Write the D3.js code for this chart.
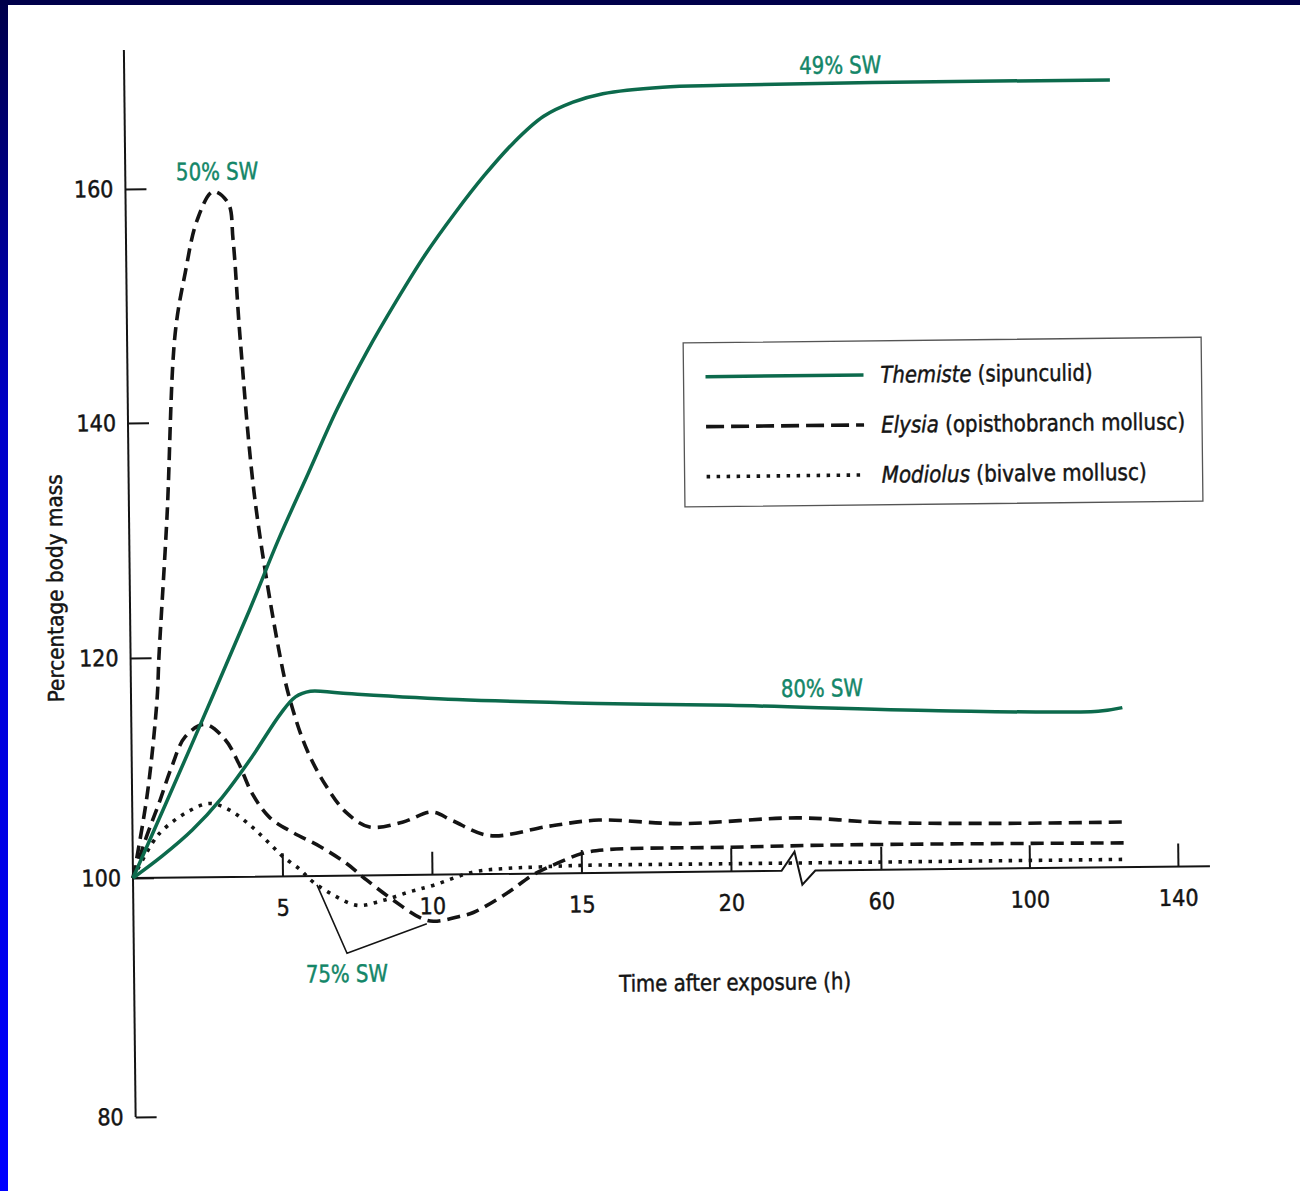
<!DOCTYPE html>
<html>
<head>
<meta charset="utf-8">
<script src="https://cdn.jsdelivr.net/npm/d3@7"></script>
<style>
  body { margin: 0; background: #fff; }
  svg { display: block; }
  text { font-family: "Liberation Sans Narrow", "Arial Narrow", "DejaVu Sans Condensed", sans-serif; }
</style>
</head>
<body>
<svg width="1300" height="1191"></svg>
<script>
'use strict'

// tick values
const X_TICKS = [5, 10, 15, 20, 60, 100, 140];
const Y_TICKS = [80, 100, 120, 140, 160];

// [hours, % body mass]
const themiste49 = [[0, 100], [2, 112], [4, 124], [5, 130], [6, 135.5], [7, 141], [8, 145.8],
  [9, 150.1], [10, 154.1], [11, 157.6], [12, 160.8], [13, 163.6], [14, 165.8], [15, 167.0],
  [16, 167.7], [18, 168.2], [20, 168.3], [60, 168.4], [124, 168.4]];
const themiste80 = [[0, 100], [1, 102.0], [2, 104.3], [3, 107.2], [4, 110.8], [5, 114.8],
  [5.5, 116.3], [6, 116.8], [7, 116.6], [10.9, 115.9], [15.6, 115.4], [20, 115.1], [76, 114.4],
  [119, 114.2], [125.5, 114.5]];
const elysia50 = [[0, 100], [0.14, 101.9], [0.53, 108.0], [0.87, 116.2], [0.95, 120.1], [1.27, 132],
  [1.61, 147.6], [1.97, 152.8], [2.39, 157.3], [2.93, 159.7], [3.43, 158.7], [3.58, 155.6],
  [3.78, 147.2], [4.22, 133.3], [5.0, 120.0], [5.32, 116.0], [5.86, 111.5], [6.51, 108.1],
  [7.17, 105.7], [7.93, 104.4], [9.03, 104.8], [10.03, 105.7], [10.7, 104.9], [11.94, 103.5],
  [13.95, 104.3], [15.6, 104.8], [18.3, 104.4], [38, 104.8], [60, 104.3], [92, 104.1], [125.7, 104.1]];
const elysia75 = [[0, 100], [0.46, 103.7], [0.9, 106.8], [1.34, 110.1], [1.8, 112.8], [2.46, 113.9],
  [3.13, 112.5], [3.58, 110.3], [4.01, 107.6], [4.58, 105.4], [5.35, 104.0], [6.25, 102.7],
  [7.15, 101.1], [7.82, 99.6], [8.7, 97.9], [9.6, 96.4], [10.03, 96.1], [10.94, 96.5],
  [11.37, 96.8], [12.51, 98.4], [13.38, 99.9], [14.18, 100.9], [15.05, 101.8], [15.85, 102.1],
  [20, 102.2], [49, 102.3], [126.3, 102.2]];
const modiolus = [[0, 100], [0.67, 103.2], [1.0, 104.3], [1.81, 105.9], [2.58, 106.7], [3.24, 106.1],
  [4.01, 104.5], [4.58, 103.0], [5.02, 101.8], [5.59, 100.6], [6.02, 99.5], [6.69, 98.4],
  [7.49, 97.5], [8.36, 97.9], [9.26, 98.6], [10.03, 99.1], [11.37, 100.2], [12.51, 100.5],
  [13.6, 100.6], [15.05, 100.7], [20, 100.7], [49, 100.7], [126.3, 100.7]];

// annotation labels: [text, hours, mass at baseline]
const swLabels = [['50% SW', 3.07, 160.7], ['49% SW', 51.5, 169.2], ['80% SW', 44.8, 115.8], ['75% SW', 7.12, 91.1]];
// callout for 75% SW: points in [hours, mass]
const callout75 = [[6.15, 99.25], [7.13, 93.5], [9.81, 95.9]];

const legendItems = [
  { name: 'Themiste', rest: ' (sipunculid)', style: 'solid' },
  { name: 'Elysia', rest: ' (opisthobranch mollusc)', style: 'dash' },
  { name: 'Modiolus', rest: ' (bivalve mollusc)', style: 'dot' }
];

const GREEN = '#0c6a4c';
const TEAL_TEXT = '#138668';
const INK = '#141414';

const W = 1300, H = 1191;
const svg = d3.select('svg');

// page frame from the slide
const defs = svg.append('defs');
const grad = defs.append('linearGradient').attr('id', 'edge')
  .attr('x1', 0).attr('y1', 0).attr('x2', 0).attr('y2', 1);
grad.append('stop').attr('offset', '0%').attr('stop-color', '#00004a');
grad.append('stop').attr('offset', '35%').attr('stop-color', '#0000c8');
grad.append('stop').attr('offset', '100%').attr('stop-color', '#0000ff');

svg.append('rect').attr('width', W).attr('height', H).attr('fill', '#fff');
svg.append('rect').attr('x', 0).attr('y', 0).attr('width', 8).attr('height', H).attr('fill', 'url(#edge)');
svg.append('rect').attr('x', 0).attr('y', 0).attr('width', W).attr('height', 5).attr('fill', '#00004a');

// scales (x axis is broken between 20 and 60 h)
const x = d3.scaleLinear().domain([0, 20, 60, 140]).range([133, 731, 881, 1178]);
const y = d3.scaleLinear().domain([80, 100, 120, 140, 160]).range([1117, 878, 658, 423, 189]);

// the scanned figure is tilted slightly
const g = svg.append('g').attr('transform', `rotate(-0.63 ${x(0)} ${y(100)})`);

// make text a little heavier, like the printed page
function ink(sel, color) {
  sel.attr('fill', color).attr('stroke', color).attr('stroke-width', 0.45);
}

// y axis
g.append('line')
  .attr('x1', x(0)).attr('x2', x(0))
  .attr('y1', 50).attr('y2', y(80))
  .attr('stroke', INK).attr('stroke-width', 2);

const yAxis = g.append('g')
  .attr('transform', `translate(${x(0)},0)`)
  .call(d3.axisLeft(y).tickValues(Y_TICKS).tickSizeInner(-21).tickSizeOuter(0).tickPadding(12));
yAxis.select('.domain').remove();
yAxis.selectAll('line').attr('stroke', INK).attr('stroke-width', 2);
yAxis.selectAll('text').attr('font-size', 23).attr('font-family', null).call(ink, INK);

// x axis with break
const b0 = 33.5, b1 = 37, b2 = 39, b3 = 42.5;
const axisPath = d3.path();
axisPath.moveTo(x(0), y(100));
axisPath.lineTo(x(b0), y(100));
axisPath.lineTo(x(b1), y(100) - 19);
axisPath.lineTo(x(b2), y(100) + 14);
axisPath.lineTo(x(b3), y(100));
axisPath.lineTo(1210, y(100));
g.append('path').attr('d', axisPath.toString())
  .attr('fill', 'none').attr('stroke', INK).attr('stroke-width', 2).attr('stroke-linejoin', 'miter');

const xAxis = g.append('g')
  .attr('transform', `translate(0,${y(100)})`)
  .call(d3.axisBottom(x).tickValues(X_TICKS).tickSizeInner(-23).tickSizeOuter(0).tickPadding(23)
    .tickFormat(d3.format('d')));
xAxis.select('.domain').remove();
xAxis.selectAll('line').attr('stroke', INK).attr('stroke-width', 2);
xAxis.selectAll('text').attr('font-size', 23).attr('font-family', null).call(ink, INK);

// axis titles
g.append('text')
  .attr('transform', `translate(66,${y(126)}) rotate(-90)`)
  .attr('text-anchor', 'middle')
  .attr('font-size', 22)
  .attr('textLength', 228).attr('lengthAdjust', 'spacingAndGlyphs')
  .call(ink, INK)
  .text('Percentage body mass');

g.append('text')
  .attr('x', 734).attr('y', 997)
  .attr('text-anchor', 'middle')
  .attr('font-size', 23)
  .attr('textLength', 232).attr('lengthAdjust', 'spacingAndGlyphs')
  .call(ink, INK)
  .text('Time after exposure (h)');

// curves
const line = d3.line()
  .x(d => x(d[0]))
  .y(d => y(d[1]))
  .curve(d3.curveCatmullRom.alpha(0.5));

const styles = {
  solid: { stroke: GREEN, dash: null, width: 3.5 },
  dash: { stroke: INK, dash: '13,7', width: 3.6 },
  dot: { stroke: INK, dash: '3.5,6.5', width: 3.6 }
};

const series = [
  { data: modiolus, style: 'dot' },
  { data: elysia75, style: 'dash' },
  { data: elysia50, style: 'dash' },
  { data: themiste80, style: 'solid' },
  { data: themiste49, style: 'solid' }
];

g.selectAll('path.curve')
  .data(series)
  .join('path')
  .attr('class', 'curve')
  .attr('d', d => line(d.data))
  .attr('fill', 'none')
  .attr('stroke', d => styles[d.style].stroke)
  .attr('stroke-width', d => styles[d.style].width)
  .attr('stroke-dasharray', d => styles[d.style].dash)
  .attr('stroke-linejoin', 'round');

// 75% SW callout
g.append('path')
  .attr('d', d3.line().x(d => x(d[0])).y(d => y(d[1]))(callout75))
  .attr('fill', 'none').attr('stroke', INK).attr('stroke-width', 1.6);

// salinity labels
g.selectAll('text.sw')
  .data(swLabels)
  .join('text')
  .attr('class', 'sw')
  .attr('x', d => x(d[1]))
  .attr('y', d => y(d[2]))
  .attr('text-anchor', 'middle')
  .attr('font-size', 24)
  .attr('textLength', 82).attr('lengthAdjust', 'spacingAndGlyphs')
  .call(ink, TEAL_TEXT)
  .text(d => d[0]);

// legend
const legend = g.append('g').attr('transform', 'translate(689,349)');
legend.append('rect')
  .attr('width', 518).attr('height', 164)
  .attr('fill', '#fff').attr('stroke', '#555').attr('stroke-width', 1.3);

const legendWidths = [212, 304, 265];
const rows = legend.selectAll('g.row')
  .data(legendItems)
  .join('g')
  .attr('class', 'row')
  .attr('transform', (d, i) => `translate(0,${34 + i * 50})`);

rows.append('line')
  .attr('x1', 22).attr('x2', 180)
  .attr('stroke', d => styles[d.style].stroke)
  .attr('stroke-width', d => styles[d.style].width)
  .attr('stroke-dasharray', d => d.style === 'dash' ? '18,7' : styles[d.style].dash);

const labels = rows.append('text')
  .attr('x', 197).attr('y', 8)
  .attr('font-size', 23)
  .attr('textLength', (d, i) => legendWidths[i]).attr('lengthAdjust', 'spacingAndGlyphs')
  .call(ink, INK);
labels.append('tspan').attr('font-style', 'italic').text(d => d.name);
labels.append('tspan').text(d => d.rest);
</script>
</body>
</html>
